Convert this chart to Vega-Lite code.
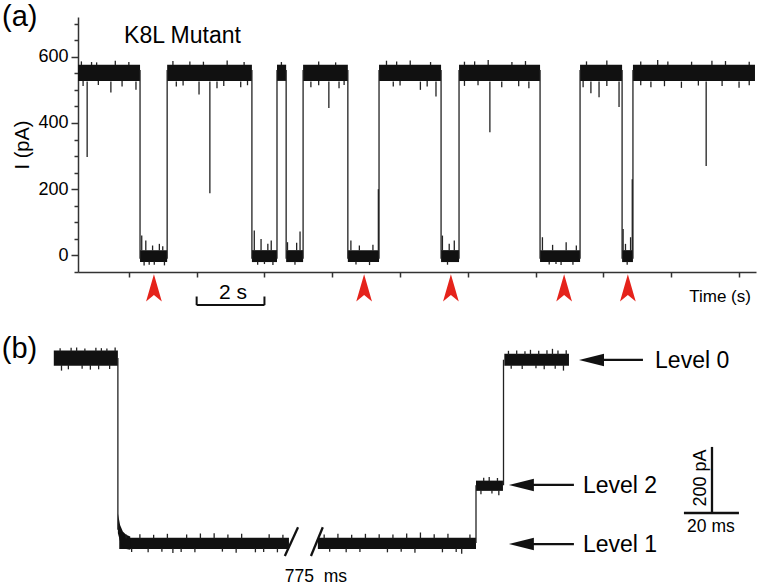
{
  "$schema": "https://vega.github.io/schema/vega-lite/v6.json",
  "padding": {"left": 1, "top": 3, "right": 2, "bottom": 0},
  "bounds": "flush",
  "spacing": 58,
  "config": {"view": {"stroke": null}, "font": "Liberation Sans", "text": {"font": "Liberation Sans", "color": "#000"}},
  "vconcat": [
    {
      "width": 678,
      "height": 255,
      "encoding": {
        "x": {"field": "t", "type": "quantitative",
          "scale": {"domain": [0.5, 20.5], "nice": false, "zero": false},
          "axis": {"values": [2, 4, 6, 8, 10, 12, 14, 16, 18, 20], "labels": false, "title": null, "tickSize": 5, "tickWidth": 1.5, "tickColor": "#333", "domainColor": "#333", "domainWidth": 1.5, "grid": false}},
        "y": {"field": "v", "type": "quantitative",
          "scale": {"domain": [-50, 720], "nice": false, "zero": false},
          "axis": {"values": [-50, 0, 50, 100, 150, 200, 250, 300, 350, 400, 450, 500, 550, 600, 650, 700],
            "labelExpr": "(datum.value % 200 === 0 && datum.value >= 0) ? datum.label : ''",
            "labelOverlap": false,
            "tickSize": {"condition": {"test": "datum.value % 200 === 0", "value": 7}, "value": 4},
            "tickWidth": 1.5, "tickColor": "#333", "domainColor": "#333", "domainWidth": 1.5, "grid": false,
            "labelFontSize": 18, "labelPadding": 3, "labelColor": "#000", "labelFont": "Liberation Sans",
            "title": "I (pA)", "titleFontSize": 20, "titleFontWeight": "normal", "titleFont": "Liberation Sans", "titleColor": "#000", "titlePadding": 5}}
      },
      "layer": [
        {
          "data": {"values": [
            {"t": 0.5, "t2": 2.33, "v": 527, "v2": 576},
            {"t": 3.13, "t2": 5.63, "v": 527, "v2": 576},
            {"t": 6.37, "t2": 6.64, "v": 527, "v2": 576},
            {"t": 7.14, "t2": 8.46, "v": 527, "v2": 576},
            {"t": 9.38, "t2": 11.21, "v": 527, "v2": 576},
            {"t": 11.74, "t2": 14.13, "v": 527, "v2": 576},
            {"t": 15.31, "t2": 16.55, "v": 527, "v2": 576},
            {"t": 16.87, "t2": 20.47, "v": 527, "v2": 576},
            {"t": 2.33, "t2": 3.13, "v": -20, "v2": 16},
            {"t": 5.63, "t2": 6.37, "v": -20, "v2": 16},
            {"t": 6.64, "t2": 7.14, "v": -20, "v2": 16},
            {"t": 8.46, "t2": 9.38, "v": -20, "v2": 16},
            {"t": 11.21, "t2": 11.74, "v": -20, "v2": 16},
            {"t": 14.13, "t2": 15.31, "v": -20, "v2": 16},
            {"t": 16.55, "t2": 16.87, "v": -20, "v2": 16}
          ]},
          "mark": {"type": "rect", "fill": "#111"},
          "encoding": {"x2": {"field": "t2"}, "y2": {"field": "v2"}}
        },
        {
          "data": {"values": [
            {"t": 2.33, "v": -10, "v2": 560}, {"t": 3.13, "v": -10, "v2": 560},
            {"t": 5.63, "v": -10, "v2": 560}, {"t": 6.37, "v": -10, "v2": 560},
            {"t": 6.64, "v": -10, "v2": 560}, {"t": 7.14, "v": -10, "v2": 560},
            {"t": 8.46, "v": -10, "v2": 560}, {"t": 9.38, "v": -10, "v2": 560},
            {"t": 11.21, "v": -10, "v2": 560}, {"t": 11.74, "v": -10, "v2": 560},
            {"t": 14.13, "v": -10, "v2": 560}, {"t": 15.31, "v": -10, "v2": 560},
            {"t": 16.55, "v": -10, "v2": 560}, {"t": 16.87, "v": -10, "v2": 560},
            {"t": 0.77, "v": 525, "v2": 297}, {"t": 4.39, "v": 525, "v2": 188},
            {"t": 7.9, "v": 525, "v2": 445}, {"t": 12.65, "v": 525, "v2": 372},
            {"t": 19.03, "v": 525, "v2": 270}, {"t": 11.06, "v": 525, "v2": 480},
            {"t": 16.46, "v": 525, "v2": 448}, {"t": 15.87, "v": 525, "v2": 478},
            {"t": 1.47, "v": 525, "v2": 492}, {"t": 2.21, "v": 525, "v2": 500},
            {"t": 4.07, "v": 525, "v2": 486}, {"t": 4.6, "v": 525, "v2": 505},
            {"t": 5.3, "v": 525, "v2": 508}, {"t": 7.37, "v": 525, "v2": 508},
            {"t": 8.2, "v": 525, "v2": 505}, {"t": 10.6, "v": 525, "v2": 500},
            {"t": 13.0, "v": 525, "v2": 508}, {"t": 13.8, "v": 525, "v2": 505},
            {"t": 15.63, "v": 525, "v2": 490}, {"t": 17.4, "v": 525, "v2": 508},
            {"t": 18.3, "v": 525, "v2": 506}, {"t": 20.0, "v": 525, "v2": 506},
            {"t": 9.8, "v": 525, "v2": 510}, {"t": 3.4, "v": 525, "v2": 510},
            {"t": 0.65, "v": 527, "v2": 512}, {"t": 1.1, "v": 527, "v2": 515},
            {"t": 1.8, "v": 527, "v2": 510}, {"t": 3.6, "v": 527, "v2": 513},
            {"t": 4.8, "v": 527, "v2": 512}, {"t": 5.5, "v": 527, "v2": 514},
            {"t": 7.6, "v": 527, "v2": 514}, {"t": 8.35, "v": 527, "v2": 515},
            {"t": 10.0, "v": 527, "v2": 513}, {"t": 10.8, "v": 527, "v2": 510},
            {"t": 11.9, "v": 527, "v2": 512}, {"t": 12.3, "v": 527, "v2": 514},
            {"t": 13.5, "v": 527, "v2": 511}, {"t": 15.4, "v": 527, "v2": 508},
            {"t": 16.1, "v": 527, "v2": 512}, {"t": 17.1, "v": 527, "v2": 514},
            {"t": 17.8, "v": 527, "v2": 511}, {"t": 18.8, "v": 527, "v2": 513},
            {"t": 19.5, "v": 527, "v2": 512}, {"t": 20.3, "v": 527, "v2": 514},
            {"t": 0.6, "v": 575, "v2": 586}, {"t": 0.9, "v": 575, "v2": 584},
            {"t": 1.05, "v": 575, "v2": 583}, {"t": 1.6, "v": 575, "v2": 588},
            {"t": 2.0, "v": 575, "v2": 584}, {"t": 3.3, "v": 575, "v2": 587},
            {"t": 3.8, "v": 575, "v2": 586}, {"t": 4.2, "v": 575, "v2": 585},
            {"t": 4.9, "v": 575, "v2": 589}, {"t": 5.4, "v": 575, "v2": 584},
            {"t": 6.5, "v": 575, "v2": 584}, {"t": 7.6, "v": 575, "v2": 586},
            {"t": 8.1, "v": 575, "v2": 583}, {"t": 9.6, "v": 575, "v2": 588},
            {"t": 9.9, "v": 575, "v2": 586}, {"t": 10.3, "v": 575, "v2": 589},
            {"t": 10.9, "v": 575, "v2": 584}, {"t": 11.9, "v": 575, "v2": 585},
            {"t": 12.2, "v": 575, "v2": 586}, {"t": 12.6, "v": 575, "v2": 590},
            {"t": 13.3, "v": 575, "v2": 584}, {"t": 13.7, "v": 575, "v2": 587},
            {"t": 15.5, "v": 575, "v2": 586}, {"t": 16.1, "v": 575, "v2": 589},
            {"t": 17.1, "v": 575, "v2": 586}, {"t": 17.6, "v": 575, "v2": 590},
            {"t": 17.9, "v": 575, "v2": 586}, {"t": 18.6, "v": 575, "v2": 585},
            {"t": 19.2, "v": 575, "v2": 588}, {"t": 19.6, "v": 575, "v2": 587},
            {"t": 20.3, "v": 575, "v2": 585},
            {"t": 2.38, "v": 15, "v2": 60}, {"t": 2.5, "v": 15, "v2": 45},
            {"t": 2.7, "v": 15, "v2": 30}, {"t": 2.9, "v": 15, "v2": 35},
            {"t": 3.0, "v": 15, "v2": 28}, {"t": 5.7, "v": 15, "v2": 75},
            {"t": 5.9, "v": 15, "v2": 50}, {"t": 6.1, "v": 15, "v2": 35},
            {"t": 6.2, "v": 15, "v2": 45}, {"t": 6.68, "v": 15, "v2": 40},
            {"t": 6.95, "v": 15, "v2": 38}, {"t": 7.05, "v": 15, "v2": 72},
            {"t": 8.55, "v": 15, "v2": 45}, {"t": 8.8, "v": 15, "v2": 30},
            {"t": 9.2, "v": 15, "v2": 32}, {"t": 11.25, "v": 15, "v2": 60},
            {"t": 11.45, "v": 15, "v2": 35}, {"t": 11.6, "v": 15, "v2": 45},
            {"t": 14.2, "v": 15, "v2": 55}, {"t": 14.5, "v": 15, "v2": 32},
            {"t": 14.9, "v": 15, "v2": 40}, {"t": 15.2, "v": 15, "v2": 30},
            {"t": 16.58, "v": 15, "v2": 80}, {"t": 16.65, "v": 15, "v2": 35},
            {"t": 16.8, "v": 15, "v2": 55},
            {"t": 2.45, "v": -18, "v2": -30}, {"t": 2.6, "v": -18, "v2": -28},
            {"t": 2.75, "v": -18, "v2": -28}, {"t": 3.05, "v": -18, "v2": -30},
            {"t": 5.8, "v": -18, "v2": -28}, {"t": 6.0, "v": -18, "v2": -26},
            {"t": 6.25, "v": -18, "v2": -29}, {"t": 6.9, "v": -18, "v2": -28},
            {"t": 8.7, "v": -18, "v2": -27}, {"t": 9.1, "v": -18, "v2": -29},
            {"t": 11.4, "v": -18, "v2": -28}, {"t": 14.4, "v": -18, "v2": -27},
            {"t": 14.6, "v": -18, "v2": -26}, {"t": 14.75, "v": -18, "v2": -29},
            {"t": 15.1, "v": -18, "v2": -28}, {"t": 16.7, "v": -18, "v2": -28},
            {"t": 9.36, "v": 15, "v2": 200}, {"t": 16.85, "v": 15, "v2": 230}
          ]},
          "mark": {"type": "rule", "stroke": "#222", "strokeWidth": 1.3},
          "encoding": {"y2": {"field": "v2"}}
        },
        {
          "data": {"values": [
            {"t": 2.74, "v": -100}, {"t": 8.94, "v": -100}, {"t": 11.5, "v": -100},
            {"t": 14.84, "v": -100}, {"t": 16.72, "v": -100}
          ]},
          "mark": {"type": "point", "shape": "M0,-1L0.55,0.9L0,0.45L-0.55,0.9Z", "filled": true, "fill": "#e5231b", "size": 820, "opacity": 1, "strokeWidth": 0}
        },
        {
          "data": {"values": [
            {"t": 4, "t2": 6, "v": -150, "v2": -150},
            {"t": 4, "t2": 4, "v": -150, "v2": -124},
            {"t": 6, "t2": 6, "v": -150, "v2": -124}
          ]},
          "mark": {"type": "rule", "stroke": "#111", "strokeWidth": 2},
          "encoding": {"x2": {"field": "t2"}, "y2": {"field": "v2"}}
        },
        {
          "data": {"values": [{"t": -1.74, "v": 720, "label": "(a)"}]},
          "mark": {"type": "text", "align": "left", "baseline": "middle", "fontSize": 29},
          "encoding": {"text": {"field": "label"}}
        },
        {
          "data": {"values": [{"t": 1.86, "v": 662, "label": "K8L Mutant"}]},
          "mark": {"type": "text", "align": "left", "baseline": "middle", "fontSize": 23},
          "encoding": {"text": {"field": "label"}}
        },
        {
          "data": {"values": [{"t": 5.07, "v": -113, "label": "2 s"}]},
          "mark": {"type": "text", "align": "center", "baseline": "middle", "fontSize": 21},
          "encoding": {"text": {"field": "label"}}
        },
        {
          "data": {"values": [{"t": 20.35, "v": -125, "label": "Time (s)"}]},
          "mark": {"type": "text", "align": "right", "baseline": "middle", "fontSize": 17},
          "encoding": {"text": {"field": "label"}}
        }
      ]
    },
    {
      "width": 678,
      "height": 256,
      "encoding": {
        "x": {"field": "t", "type": "quantitative", "scale": {"domain": [-14.5, 232], "nice": false, "zero": false}, "axis": null},
        "y": {"field": "v", "type": "quantitative", "scale": {"domain": [-130, 645], "nice": false, "zero": false}, "axis": null}
      },
      "layer": [
        {
          "data": {"values": [
            {"t": -23.3, "t2": 0, "v": 537, "v2": 583},
            {"t": 0.5, "t2": 62.2, "v": -18, "v2": 16},
            {"t": 72.7, "t2": 130.2, "v": -18, "v2": 16},
            {"t": 130.2, "t2": 140, "v": 158, "v2": 189},
            {"t": 140.5, "t2": 164, "v": 537, "v2": 573}
          ]},
          "mark": {"type": "rect", "fill": "#111"},
          "encoding": {"x2": {"field": "t2"}, "y2": {"field": "v2"}}
        },
        {
          "data": {"values": [
            {"t": 0, "v": 30, "v2": 90},
            {"t": 0.8, "v": 5, "v2": 55},
            {"t": 1.8, "v": -10, "v2": 35},
            {"t": 3, "v": -18, "v2": 25},
            {"t": 4.5, "v": -20, "v2": 20}
          ]},
          "mark": {"type": "area", "fill": "#111", "opacity": 1},
          "encoding": {"y2": {"field": "v2"}}
        },
        {
          "data": {"values": [
            {"t": 0, "v": 40, "v2": 560},
            {"t": 130.2, "v": 0, "v2": 175},
            {"t": 140.2, "v": 175, "v2": 555},
            {"t": -20.5, "v": 540, "v2": 522}, {"t": -10, "v": 540, "v2": 525},
            {"t": -3, "v": 540, "v2": 527}, {"t": -18, "v": 540, "v2": 526},
            {"t": -13, "v": 540, "v2": 528}, {"t": -7, "v": 540, "v2": 526},
            {"t": -21, "v": 580, "v2": 590}, {"t": -17, "v": 580, "v2": 591},
            {"t": -15, "v": 580, "v2": 592}, {"t": -12, "v": 580, "v2": 589},
            {"t": -8, "v": 580, "v2": 591}, {"t": -6, "v": 580, "v2": 590},
            {"t": -4, "v": 580, "v2": 589}, {"t": -1, "v": 580, "v2": 592},
            {"t": 3, "v": 14, "v2": 26}, {"t": 8, "v": 14, "v2": 27},
            {"t": 13, "v": 14, "v2": 25}, {"t": 18, "v": 14, "v2": 28},
            {"t": 25, "v": 14, "v2": 26}, {"t": 30, "v": 14, "v2": 29},
            {"t": 35, "v": 14, "v2": 30}, {"t": 40, "v": 14, "v2": 26},
            {"t": 45, "v": 14, "v2": 28}, {"t": 55, "v": 14, "v2": 27},
            {"t": 60, "v": 14, "v2": 25}, {"t": 75, "v": 14, "v2": 26},
            {"t": 80, "v": 14, "v2": 28}, {"t": 85, "v": 14, "v2": 25},
            {"t": 90, "v": 14, "v2": 28}, {"t": 95, "v": 14, "v2": 27},
            {"t": 100, "v": 14, "v2": 26}, {"t": 105, "v": 14, "v2": 29},
            {"t": 110, "v": 14, "v2": 32}, {"t": 115, "v": 14, "v2": 27},
            {"t": 120, "v": 14, "v2": 28}, {"t": 128, "v": 14, "v2": 26},
            {"t": 5, "v": -16, "v2": -27}, {"t": 11, "v": -16, "v2": -28},
            {"t": 16, "v": -16, "v2": -26}, {"t": 20, "v": -16, "v2": -30},
            {"t": 23, "v": -16, "v2": -27}, {"t": 28, "v": -16, "v2": -28},
            {"t": 38, "v": -16, "v2": -26}, {"t": 43, "v": -16, "v2": -29},
            {"t": 50, "v": -16, "v2": -28}, {"t": 53, "v": -16, "v2": -27},
            {"t": 58, "v": -16, "v2": -28}, {"t": 77, "v": -16, "v2": -26},
            {"t": 83, "v": -16, "v2": -28}, {"t": 88, "v": -16, "v2": -27},
            {"t": 98, "v": -16, "v2": -28}, {"t": 103, "v": -16, "v2": -26},
            {"t": 108, "v": -16, "v2": -29}, {"t": 118, "v": -16, "v2": -28},
            {"t": 123, "v": -16, "v2": -27}, {"t": 125, "v": -16, "v2": -32},
            {"t": 133, "v": 187, "v2": 198}, {"t": 135, "v": 187, "v2": 200},
            {"t": 138, "v": 187, "v2": 197}, {"t": 132, "v": 160, "v2": 148},
            {"t": 136, "v": 160, "v2": 150}, {"t": 138.5, "v": 160, "v2": 145},
            {"t": 142, "v": 570, "v2": 582}, {"t": 145, "v": 570, "v2": 583},
            {"t": 148, "v": 570, "v2": 581}, {"t": 150, "v": 570, "v2": 585},
            {"t": 153, "v": 570, "v2": 582}, {"t": 156, "v": 570, "v2": 584},
            {"t": 158, "v": 570, "v2": 588}, {"t": 160, "v": 570, "v2": 583},
            {"t": 163, "v": 570, "v2": 584},
            {"t": 143, "v": 540, "v2": 528}, {"t": 147, "v": 540, "v2": 527},
            {"t": 152, "v": 540, "v2": 529}, {"t": 155, "v": 540, "v2": 526},
            {"t": 159, "v": 540, "v2": 528}, {"t": 162, "v": 540, "v2": 522}
          ]},
          "mark": {"type": "rule", "stroke": "#222", "strokeWidth": 1.3},
          "encoding": {"y2": {"field": "v2"}}
        },
        {
          "data": {"values": [
            {"t": 60.7, "t2": 65.5, "v": -39, "v2": 48},
            {"t": 70.2, "t2": 74.5, "v": -39, "v2": 48},
            {"t": 176, "t2": 190.9, "v": 554.5, "v2": 554.5},
            {"t": 150.5, "t2": 165.8, "v": 176, "v2": 176},
            {"t": 150.5, "t2": 165.8, "v": -3, "v2": -3},
            {"t": 216, "t2": 216, "v": 91, "v2": 291},
            {"t": 205.8, "t2": 225.8, "v": 91, "v2": 91}
          ]},
          "mark": {"type": "rule", "stroke": "#111", "strokeWidth": 2.3},
          "encoding": {"x2": {"field": "t2"}, "y2": {"field": "v2"}}
        },
        {
          "data": {"values": [
            {"t": 172.2, "v": 554.5}, {"t": 146.7, "v": 176}, {"t": 146.7, "v": -3}
          ]},
          "mark": {"type": "point", "shape": "M-1,0L1,-0.5L1,0.5Z", "filled": true, "fill": "#111", "size": 625, "opacity": 1, "strokeWidth": 0}
        },
        {
          "data": {"values": [
            {"t": 195.3, "v": 551, "label": "Level 0"},
            {"t": 169.1, "v": 173, "label": "Level 2"},
            {"t": 169.1, "v": -6, "label": "Level 1"}
          ]},
          "mark": {"type": "text", "align": "left", "baseline": "middle", "fontSize": 23},
          "encoding": {"text": {"field": "label"}}
        },
        {
          "data": {"values": [{"t": 212, "v": 197, "label": "200 pA"}]},
          "mark": {"type": "text", "align": "center", "baseline": "middle", "fontSize": 18, "angle": 270},
          "encoding": {"text": {"field": "label"}}
        },
        {
          "data": {"values": [
            {"t": 215.6, "v": 48, "label": "20 ms"},
            {"t": 72, "v": -103, "label": "775\u00a0 ms"}
          ]},
          "mark": {"type": "text", "align": "center", "baseline": "middle", "fontSize": 17.5},
          "encoding": {"text": {"field": "label"}}
        },
        {
          "data": {"values": [{"t": -42.2, "v": 588, "label": "(b)"}]},
          "mark": {"type": "text", "align": "left", "baseline": "middle", "fontSize": 29},
          "encoding": {"text": {"field": "label"}}
        }
      ]
    }
  ]
}
